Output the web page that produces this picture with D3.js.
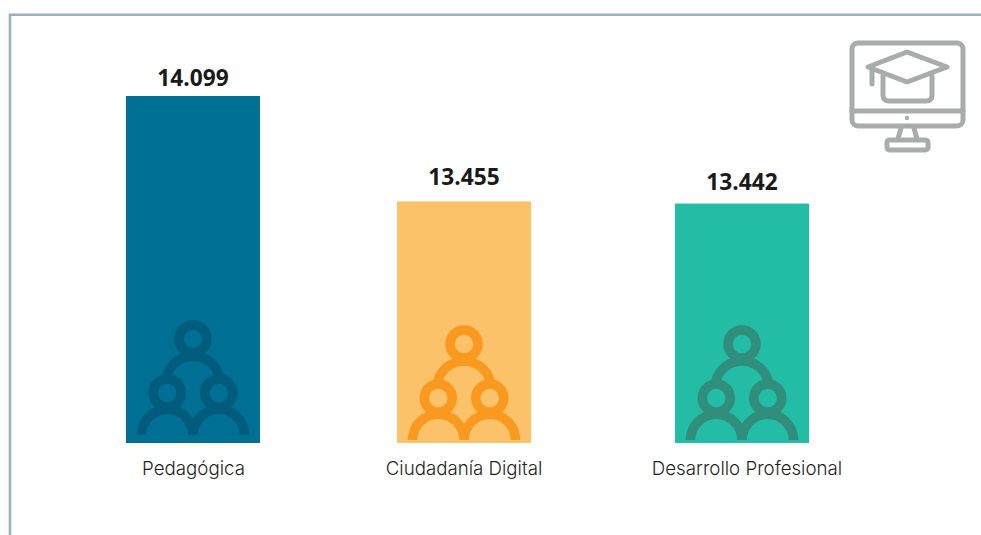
<!DOCTYPE html>
<html><head><meta charset="utf-8">
<style>html,body{margin:0;padding:0;background:#fff;overflow:hidden}svg{display:block}</style>
<script src="https://cdn.jsdelivr.net/npm/d3@7"></script></head>
<body><svg id="c" width="981" height="535"></svg>
<script>
const categories = ["Pedagógica","Ciudadanía Digital","Desarrollo Profesional"];
const values = [14099,13455,13442];
const valueLabels = ["14.099","13.455","13.442"];
const barColors = ["#006f94","#fcc269","#23bca4"];
const iconColors = ["#005b7c","#f9991f","#2f8e7c"];

const W=981,H=535;
const svg=d3.select("#c");
const x=d3.scaleOrdinal().domain(categories).range([193,464,742]);
const y=d3.scaleLinear().domain([11979,14099]).range([443,96]);
const barW=134;
const labelGap=[10.5,16,13.5];
const nameDx=[0.5,0,5];

svg.append("path").attr("d",d3.line()([[10,535],[10,14.7],[981,14.7]]))
  .attr("fill","none").attr("stroke","#9cb0c0").attr("stroke-width",2.6);

const g=svg.selectAll("g.bar").data(categories).join("g").attr("class","bar");
g.append("rect").attr("x",d=>x(d)-barW/2).attr("width",barW)
  .attr("y",(d,i)=>y(values[i])).attr("height",(d,i)=>y.range()[0]-y(values[i]))
  .attr("fill",(d,i)=>barColors[i]);
g.append("text").attr("x",d=>x(d)).attr("y",(d,i)=>y(values[i])-labelGap[i]).attr("text-anchor","middle")
  .attr("font-family","'Open Sans',sans-serif").attr("font-weight",700).attr("font-size",22.7)
  .attr("fill","#1a1a1a").text((d,i)=>valueLabels[i]);
g.append("text").attr("x",(d,i)=>x(d)+nameDx[i]).attr("y",474.5).attr("text-anchor","middle")
  .attr("font-family","Inter,sans-serif").attr("font-weight",300).attr("font-size",18.7).attr("fill","#1f1f1f").text(d=>d);

const iconDy=[0,5,5];
const peoplePath=(()=>{const p=d3.path();
  const circ=(cx,cy,r)=>{p.moveTo(cx+r,cy);p.arc(cx,cy,r,0,2*Math.PI);};
  circ(0,-104,14);circ(-25.75,-50,14);circ(25.75,-50,14);
  p.moveTo(-51.5,-10);p.lineTo(-51.5,-8);p.arc(-25.75,-8,25.75,Math.PI,0);p.lineTo(0,-10);
  p.moveTo(0,-10);p.arc(25.75,-8,25.75,Math.PI,0);
  p.moveTo(-26,-67);p.arc(0,-60,27,Math.PI+0.26,-0.26);
  return p.toString();})();
g.append("path").attr("d",peoplePath).attr("fill","none").attr("stroke-width",9.5)
  .attr("stroke",(d,i)=>iconColors[i])
  .attr("transform",(d,i)=>`translate(${x(d)},${y.range()[0]+iconDy[i]})`);

const m=svg.append("g").attr("fill","none").attr("stroke","#a8acab").attr("stroke-width",5).attr("stroke-linejoin","round").attr("stroke-linecap","round");
m.append("rect").attr("x",852).attr("y",43).attr("width",111).attr("height",83).attr("rx",6);
m.append("path").attr("d","M852 111H963");
m.append("circle").attr("cx",907).attr("cy",118).attr("r",2.2).attr("fill","#a8acab").attr("stroke","none");
m.append("path").attr("d","M901 128L898 139M914 128L917 139");
m.append("rect").attr("x",887).attr("y",140).attr("width",41).attr("height",10).attr("rx",2.5);
m.append("path").attr("d","M868 67L907 52L947 67L907 82Z");
m.append("path").attr("d","M872 69V84");
m.append("path").attr("d","M883 76V95Q883 101 889 101H926Q932 101 932 95V76");
</script></body></html>
